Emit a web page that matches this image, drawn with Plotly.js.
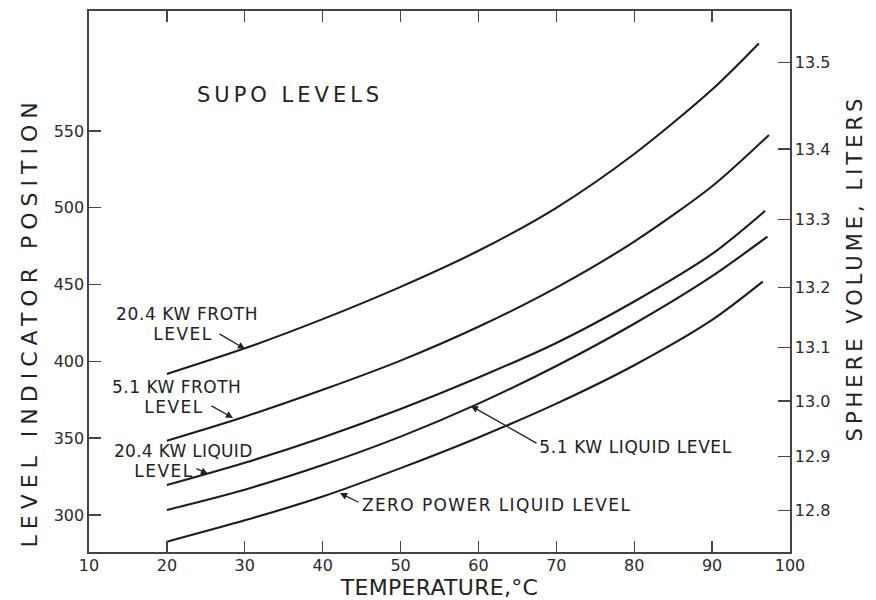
<!DOCTYPE html>
<html>
<head>
<meta charset="utf-8">
<script src="https://cdn.plot.ly/plotly-3.0.1.min.js"></script>
<style>html,body{margin:0;padding:0;background:#fff;}#chart{width:876px;height:600px;}</style>
</head>
<body>
<div id="chart"></div>
<script>
// ---- data ----
const froth204T = [20, 30, 40, 50, 60, 70, 80, 90, 96.0];
const froth204  = [391.8, 408.5, 427.5, 448.5, 472, 500, 535, 577, 607];
const froth51T  = [20, 30, 40, 50, 60, 70, 80, 90, 97.3];
const froth51   = [348.4, 364, 381.5, 400.5, 422.5, 448, 478, 514, 547.4];
const liquid204T = [20, 30, 40, 50, 60, 70, 80, 90, 96.8];
const liquid204  = [319.5, 334, 350.5, 369, 389.5, 412, 439, 470, 498];
const liquid51T  = [20, 30, 40, 50, 60, 70, 80, 90, 97.1];
const liquid51   = [303.3, 316.5, 332.5, 351, 372.5, 397, 424.5, 455.5, 481.2];
const zeroT      = [20, 30, 40, 50, 60, 70, 80, 90, 96.5];
const zeroPower  = [282.6, 296.5, 312, 330.5, 350.5, 372.5, 397.5, 427, 451.9];

const xTickVals = [10, 20, 30, 40, 50, 60, 70, 80, 90, 100];
const yTickVals = [300, 350, 400, 450, 500, 550];
const volumeLabels = ['12.8', '12.9', '13.0', '13.1', '13.2', '13.3', '13.4', '13.5'];
const volumeAtLevel = [302.8, 338, 374.2, 409.2, 448.2, 492.5, 538.3, 594.7];

const seriesNames = ['20.4 KW FROTH LEVEL', '5.1 KW FROTH LEVEL', '20.4 KW LIQUID LEVEL', '5.1 KW LIQUID LEVEL', 'ZERO POWER LIQUID LEVEL'];

// ---- chart ----
const xs = [froth204T, froth51T, liquid204T, liquid51T, zeroT];
const ys = [froth204, froth51, liquid204, liquid51, zeroPower];
const traces = ys.map((y, i) => ({
  x: xs[i], y: y, name: seriesNames[i], type: 'scatter', mode: 'lines',
  line: {color: '#1c1c1c', width: 2.1, shape: 'spline', smoothing: 0.8},
  hoverinfo: 'x+y+name', showlegend: false
}));
// invisible trace to activate right axis
traces.push({x: [froth204T[0]], y: [froth204[0]], yaxis: 'y2', mode: 'markers',
  marker: {opacity: 0}, showlegend: false, hoverinfo: 'skip'});

const FAM = 'DejaVu Sans, Liberation Sans, sans-serif';
const tickFont = {family: FAM, size: 16, color: '#2a2a2a'};
const YR = [275.9, 628.1];

const lbl = (text, x, y, size) => ({text: text, x: x, y: y, xref: 'x', yref: 'y',
  xanchor: 'center', yanchor: 'middle', showarrow: false, borderpad: 0,
  font: {family: FAM, size: size || 17, color: '#222'}});
const arr = (tx, ty, hx, hy) => ({text: '', x: hx, y: hy, ax: tx, ay: ty,
  xref: 'x', yref: 'y', axref: 'x', ayref: 'y', showarrow: true,
  arrowhead: 2, arrowsize: 1.1, arrowwidth: 1.3, arrowcolor: '#222', standoff: 0, startstandoff: 0});

const layout = {
  width: 876, height: 600,
  margin: {l: 89, r: 86, t: 11, b: 48},
  paper_bgcolor: '#ffffff', plot_bgcolor: '#ffffff',
  showlegend: false,
  xaxis: {
    range: [10, 100], tickvals: xTickVals, ticktext: xTickVals.map(String),
    ticks: 'inside', ticklen: 11, tickwidth: 1.4, tickcolor: '#444',
    showline: true, linecolor: '#444', linewidth: 1.6, mirror: 'ticks',
    showgrid: false, zeroline: false, tickfont: tickFont, ticklabelstandoff: -2,
    title: {text: 'TEMPERATURE,°C', standoff: 5,
      font: {family: FAM, size: 22, color: '#222'}}
  },
  yaxis: {
    range: YR, tickvals: yTickVals, ticktext: yTickVals.map(String),
    ticks: 'inside', ticklen: 12, tickwidth: 1.4, tickcolor: '#444',
    showline: true, linecolor: '#444', linewidth: 1.6, mirror: true,
    showgrid: false, zeroline: false, tickfont: tickFont
  },
  yaxis2: {
    overlaying: 'y', side: 'right', range: YR,
    tickvals: volumeAtLevel, ticktext: volumeLabels,
    ticks: 'inside', ticklen: 12, tickwidth: 1.4, tickcolor: '#444',
    showline: true, linecolor: '#444', linewidth: 1.6,
    showgrid: false, zeroline: false, tickfont: tickFont
  },
  annotations: [
    {text: 'LEVEL INDICATOR POSITION', xref: 'paper', yref: 'paper', x: -0.0842, y: 0.426,
      textangle: -90, showarrow: false, xanchor: 'center', yanchor: 'middle',
      font: {family: FAM, size: 22, color: '#222'}},
    {text: 'SPHERE VOLUME, LITERS', xref: 'paper', yref: 'paper', x: 1.0927, y: 0.526,
      textangle: -90, showarrow: false, xanchor: 'center', yanchor: 'middle',
      font: {family: FAM, size: 21, color: '#222'}},
    lbl('SUPO LEVELS', 35.8, 573.4, 21),
    lbl('20.4 KW FROTH', 22.52, 430.9),
    lbl('LEVEL', 22.07, 417.8),
    lbl('5.1 KW FROTH', 21.23, 383.0),
    lbl('LEVEL', 21.04, 370.0),
    lbl('20.4 KW LIQUID', 22.13, 341.7),
    lbl('LEVEL', 19.63, 328.6),
    lbl('ZERO POWER LIQUID LEVEL', 62.37, 306.5),
    lbl('5.1 KW LIQUID LEVEL', 80.28, 344.3),
    arr(26.56, 418.5, 30.03, 408.1),
    arr(25.53, 371.6, 28.49, 363.2),
    arr(23.6, 330.6, 25.28, 326.7),
    arr(44.79, 307.8, 42.22, 314.3),
    arr(67.64, 346.2, 59.04, 371.0)
  ]
};

Plotly.newPlot('chart', traces, layout, {staticPlot: true}).then(() => {
  const spacing = {
    'LEVEL INDICATOR POSITION': '6px',
    'SPHERE VOLUME, LITERS': '4px',
    'SUPO LEVELS': '4px',
    'ZERO POWER LIQUID LEVEL': '1.4px',
    '5.1 KW LIQUID LEVEL': '0.6px',
    '20.4 KW FROTH': '0.6px', '5.1 KW FROTH': '0.5px', '20.4 KW LIQUID': '0.3px', 'LEVEL': '1.5px',
    'TEMPERATURE,°C': '0.3px'
  };
  document.querySelectorAll('#chart svg text').forEach(t => {
    const s = spacing[t.textContent];
    if (s) t.style.letterSpacing = s;
  });
});
</script>
</body>
</html>
